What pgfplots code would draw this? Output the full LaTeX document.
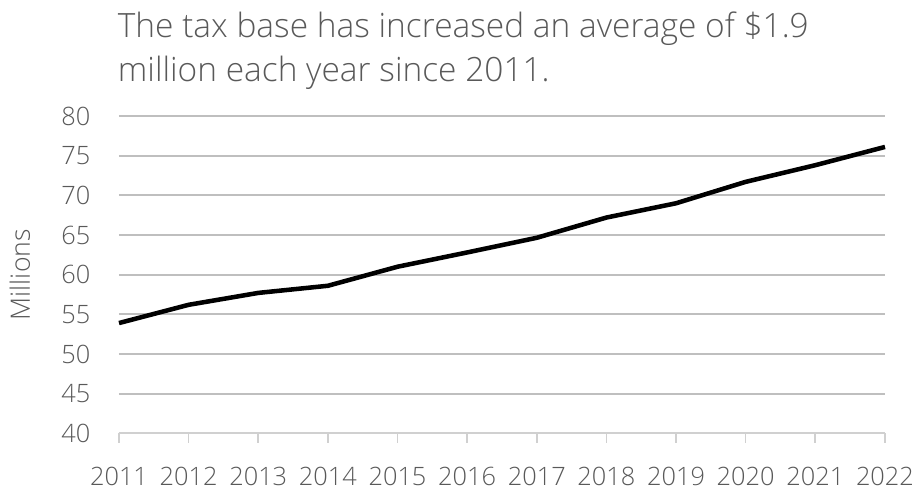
\documentclass[border=0pt]{standalone}
\usepackage{fontspec}
\setmainfont{Open Sans Light}
\usepackage{pgfplots}
\pgfplotsset{compat=1.18}
\definecolor{txt}{HTML}{595959}
\definecolor{grid}{HTML}{D0D0D0}
\begin{document}
\begin{tikzpicture}
\begin{axis}[
  at={(0pt,0pt)}, anchor=south west,
  scale only axis, width=574.5pt, height=238pt,
  xmin=2011, xmax=2022, ymin=40, ymax=80,
  xtick={2011,...,2022}, ytick={40,45,...,80},
  /pgf/number format/assume math mode=true,
  xticklabel={\pgfmathprintnumber[1000 sep={},fixed,precision=0]{\tick}},
  axis x line*=bottom, axis y line*=left,
  x axis line style={grid, line width=1.5pt},
  y axis line style={draw=none},
  ymajorgrids, xmajorgrids=false, major grid style={grid, line width=1.5pt},
  ytick style={draw=none},
  xtick style={grid, line width=1.2pt},
  tick align=outside, major tick length=7pt,
  ticklabel style={font=\fontsize{19}{22}\selectfont, text=txt},
  yticklabel style={anchor=east, xshift=-11pt},
  xticklabel style={yshift=-15pt},
  ylabel={Millions}, ylabel style={font=\fontsize{20}{24}\selectfont, text=txt},
  ylabel shift=16.5pt,
  clip=false,
]
\addplot[black, line width=3.4pt, line join=round] coordinates {
(2011,53.9) (2012,56.2) (2013,57.7) (2014,58.6) (2015,61.0) (2016,62.8)
(2017,64.65) (2018,67.2) (2019,69.0) (2020,71.7) (2021,73.8) (2022,76.1)};
\end{axis}
\node[anchor=base west, inner sep=0pt, text=txt, font=\fontsize{25.1}{29}\selectfont] at (-1pt,296.5pt) {The tax base has increased an average of \$1.9};
\node[anchor=base west, inner sep=0pt, text=txt, font=\fontsize{25.1}{29}\selectfont] at (-1pt,263.5pt) {million each year since 2011.};
\pgfresetboundingbox
\path (-89.25pt,-43.3pt) rectangle (599.25pt,325pt);
\end{tikzpicture}
\end{document}
